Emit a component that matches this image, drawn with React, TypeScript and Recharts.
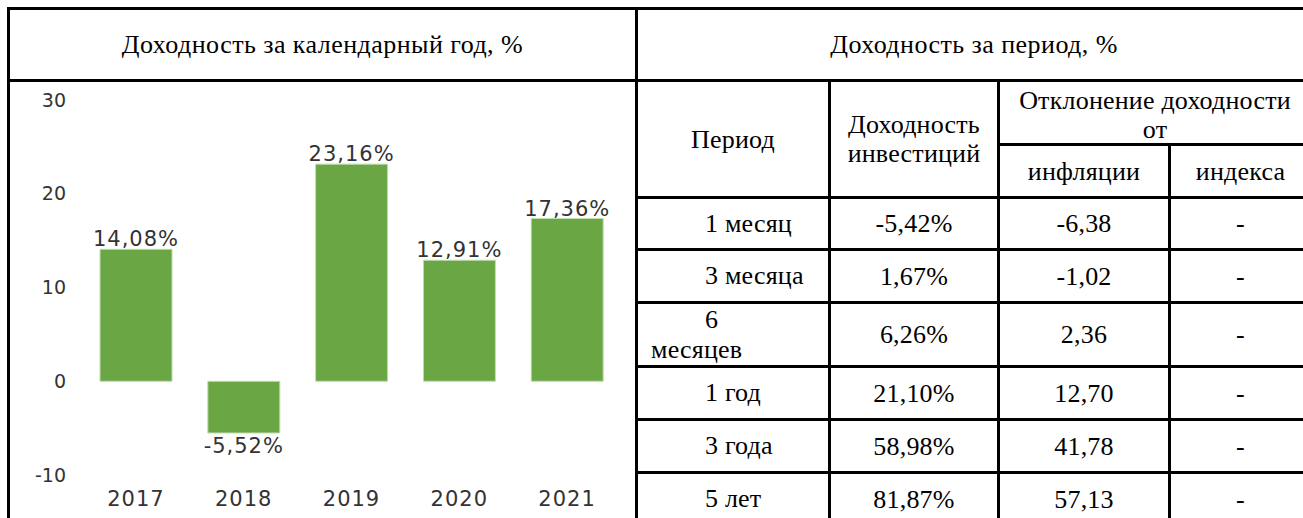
import React from 'react';
import { BarChart, Bar, XAxis, YAxis, LabelList } from 'recharts';

// ---- chart data ----
const years = ['2017', '2018', '2019', '2020', '2021'];
const yearReturns = [14.08, -5.52, 23.16, 12.91, 17.36];
const yTicks = [-10, 0, 10, 20, 30];

// ---- table data ----
const periods = ['1 месяц', '3 месяца', '6\nмесяцев', '1 год', '3 года', '5 лет'];
const investReturns = ['-5,42%', '1,67%', '6,26%', '21,10%', '58,98%', '81,87%'];
const vsInflation = ['-6,38', '-1,02', '2,36', '12,70', '41,78', '57,13'];
const vsIndex = ['-', '-', '-', '-', '-', '-'];

const leftTitle = 'Доходность за календарный год, %';
const rightTitle = 'Доходность за период, %';
const colPeriod = 'Период';
const colInvest = 'Доходность\nинвестиций';
const colDeviation = 'Отклонение доходности\nот';
const colInflation = 'инфляции';
const colIndex = 'индекса';

const chartData = years.map((y, i) => ({ year: y, value: yearReturns[i] }));
const fmt = (v: number) => v.toFixed(2).replace('.', ',') + '%';

// ---- layout ----
const B = 3;
const rowTops = [196, 248, 301, 365, 418, 471, 524];
const colX = [635, 828, 997, 1168, 1310];
const SERIF = '"Liberation Serif", "Times New Roman", serif';
const SANS = '"DejaVu Sans", sans-serif';

const Line = ({ l, t, w, h }: { l: number; t: number; w: number; h: number }) => (
  <div style={{ position: 'absolute', left: l, top: t, width: w, height: h, background: '#000' }} />
);

const TextBox = ({
  l, t, r, b, text, spacing = 0.2,
}: { l: number; t: number; r: number; b: number; text: string; spacing?: number }) => (
  <div
    style={{
      position: 'absolute', left: l, top: t, width: r - l, height: b - t,
      display: 'flex', alignItems: 'center', justifyContent: 'center',
      fontFamily: SERIF, fontSize: 26, color: '#000', letterSpacing: spacing,
      lineHeight: '29px', whiteSpace: 'pre-line', textAlign: 'center',
    }}
  >
    <span>{text}</span>
  </div>
);

const PeriodBox = ({ t, b, text }: { t: number; b: number; text: string }) => {
  const parts = text.split('\n');
  return (
    <div
      style={{
        position: 'absolute', left: colX[0] + B, top: t, width: colX[1] - colX[0] - B, height: b - t,
        display: 'flex', flexDirection: 'column', justifyContent: 'center',
        fontFamily: SERIF, fontSize: 26, color: '#000', lineHeight: '30px', letterSpacing: 0.2,
      }}
    >
      {parts.map((p, i) => (
        <div key={i} style={{ paddingLeft: i === 0 ? 705 - colX[0] - B : 651 - colX[0] - B, whiteSpace: 'nowrap' }}>{p}</div>
      ))}
    </div>
  );
};

const renderLabel = (props: any) => {
  const vb = props.viewBox || {};
  const x = props.x ?? vb.x;
  const y = props.y ?? vb.y;
  const width = props.width ?? vb.width;
  const height = props.height ?? vb.height;
  const value = Number(props.value);
  const top = Math.min(y, y + height);
  const bottom = Math.max(y, y + height);
  const cx = x + width / 2;
  const neg = value < 0;
  return (
    <text
      x={cx}
      y={neg ? bottom + 20 : top - 3}
      textAnchor="middle"
      fontFamily={SANS}
      fontSize={21}
      fill="#333"
      letterSpacing={1}
    >
      {fmt(value)}
    </text>
  );
};

export default function App() {
  const rightEdge = colX[4];
  return (
    <div style={{ position: 'absolute', left: 0, top: 0, width: 1303, height: 518, overflow: 'hidden', background: '#fff' }}>
      {/* chart */}
      <div style={{ position: 'absolute', left: 10, top: 82 }}>
        <BarChart width={625} height={436} data={chartData} margin={{ top: 18, right: 14, left: 0, bottom: 0 }}>
          <XAxis
            dataKey="year"
            axisLine={false}
            tickLine={false}
            tickSize={0}
            tickMargin={16}
            height={43}
            interval={0}
            tick={{ fontFamily: SANS, fontSize: 21, fill: '#333', letterSpacing: 1 }}
          />
          <YAxis
            domain={[-10, 30]}
            ticks={yTicks}
            interval={0}
            axisLine={false}
            tickLine={false}
            tickSize={0}
            tickMargin={16}
            width={72}
            tick={{ fontFamily: SANS, fontSize: 19, fill: '#333' }}
          />
          <Bar dataKey="value" fill="#6aa644" stroke="#c2ddb0" strokeWidth={1} barSize={72} isAnimationActive={false}>
            <LabelList dataKey="value" content={renderLabel} />
          </Bar>
        </BarChart>
      </div>

      {/* header texts */}
      <TextBox l={10} t={10} r={colX[0]} b={79} text={leftTitle} spacing={0.45} />
      <TextBox l={colX[0] + B} t={10} r={rightEdge} b={79} text={rightTitle} spacing={0.45} />
      <TextBox l={colX[0] + B} t={82} r={colX[1]} b={rowTops[0]} text={colPeriod} />
      <TextBox l={colX[1] + B} t={82} r={colX[2]} b={rowTops[0]} text={colInvest} />
      <TextBox l={colX[2] + B} t={86} r={rightEdge} b={143} text={colDeviation} />
      <TextBox l={colX[2] + B} t={146} r={colX[3]} b={rowTops[0]} text={colInflation} />
      <TextBox l={colX[3] + B} t={146} r={rightEdge} b={rowTops[0]} text={colIndex} />

      {/* data rows */}
      {periods.map((p, i) => {
        const t = rowTops[i] + B;
        const b = rowTops[i + 1];
        return (
          <React.Fragment key={p}>
            <PeriodBox t={t} b={b} text={p} />
            <TextBox l={colX[1] + B} t={t} r={colX[2]} b={b} text={investReturns[i]} />
            <TextBox l={colX[2] + B} t={t} r={colX[3]} b={b} text={vsInflation[i]} />
            <TextBox l={colX[3] + B} t={t} r={rightEdge} b={b} text={vsIndex[i]} />
          </React.Fragment>
        );
      })}

      {/* grid lines */}
      <Line l={7} t={7} w={rightEdge + B - 7} h={B} />
      <Line l={7} t={79} w={rightEdge + B - 7} h={B} />
      <Line l={7} t={7} w={B} h={600} />
      <Line l={colX[0]} t={7} w={B} h={600} />
      <Line l={rightEdge} t={7} w={B} h={600} />
      <Line l={colX[1]} t={79} w={B} h={600} />
      <Line l={colX[2]} t={79} w={B} h={600} />
      <Line l={colX[3]} t={143} w={B} h={600} />
      <Line l={colX[2]} t={143} w={rightEdge - colX[2]} h={B} />
      {rowTops.map((t) => (
        <Line key={t} l={colX[0]} t={t} w={rightEdge - colX[0]} h={B} />
      ))}
    </div>
  );
}
